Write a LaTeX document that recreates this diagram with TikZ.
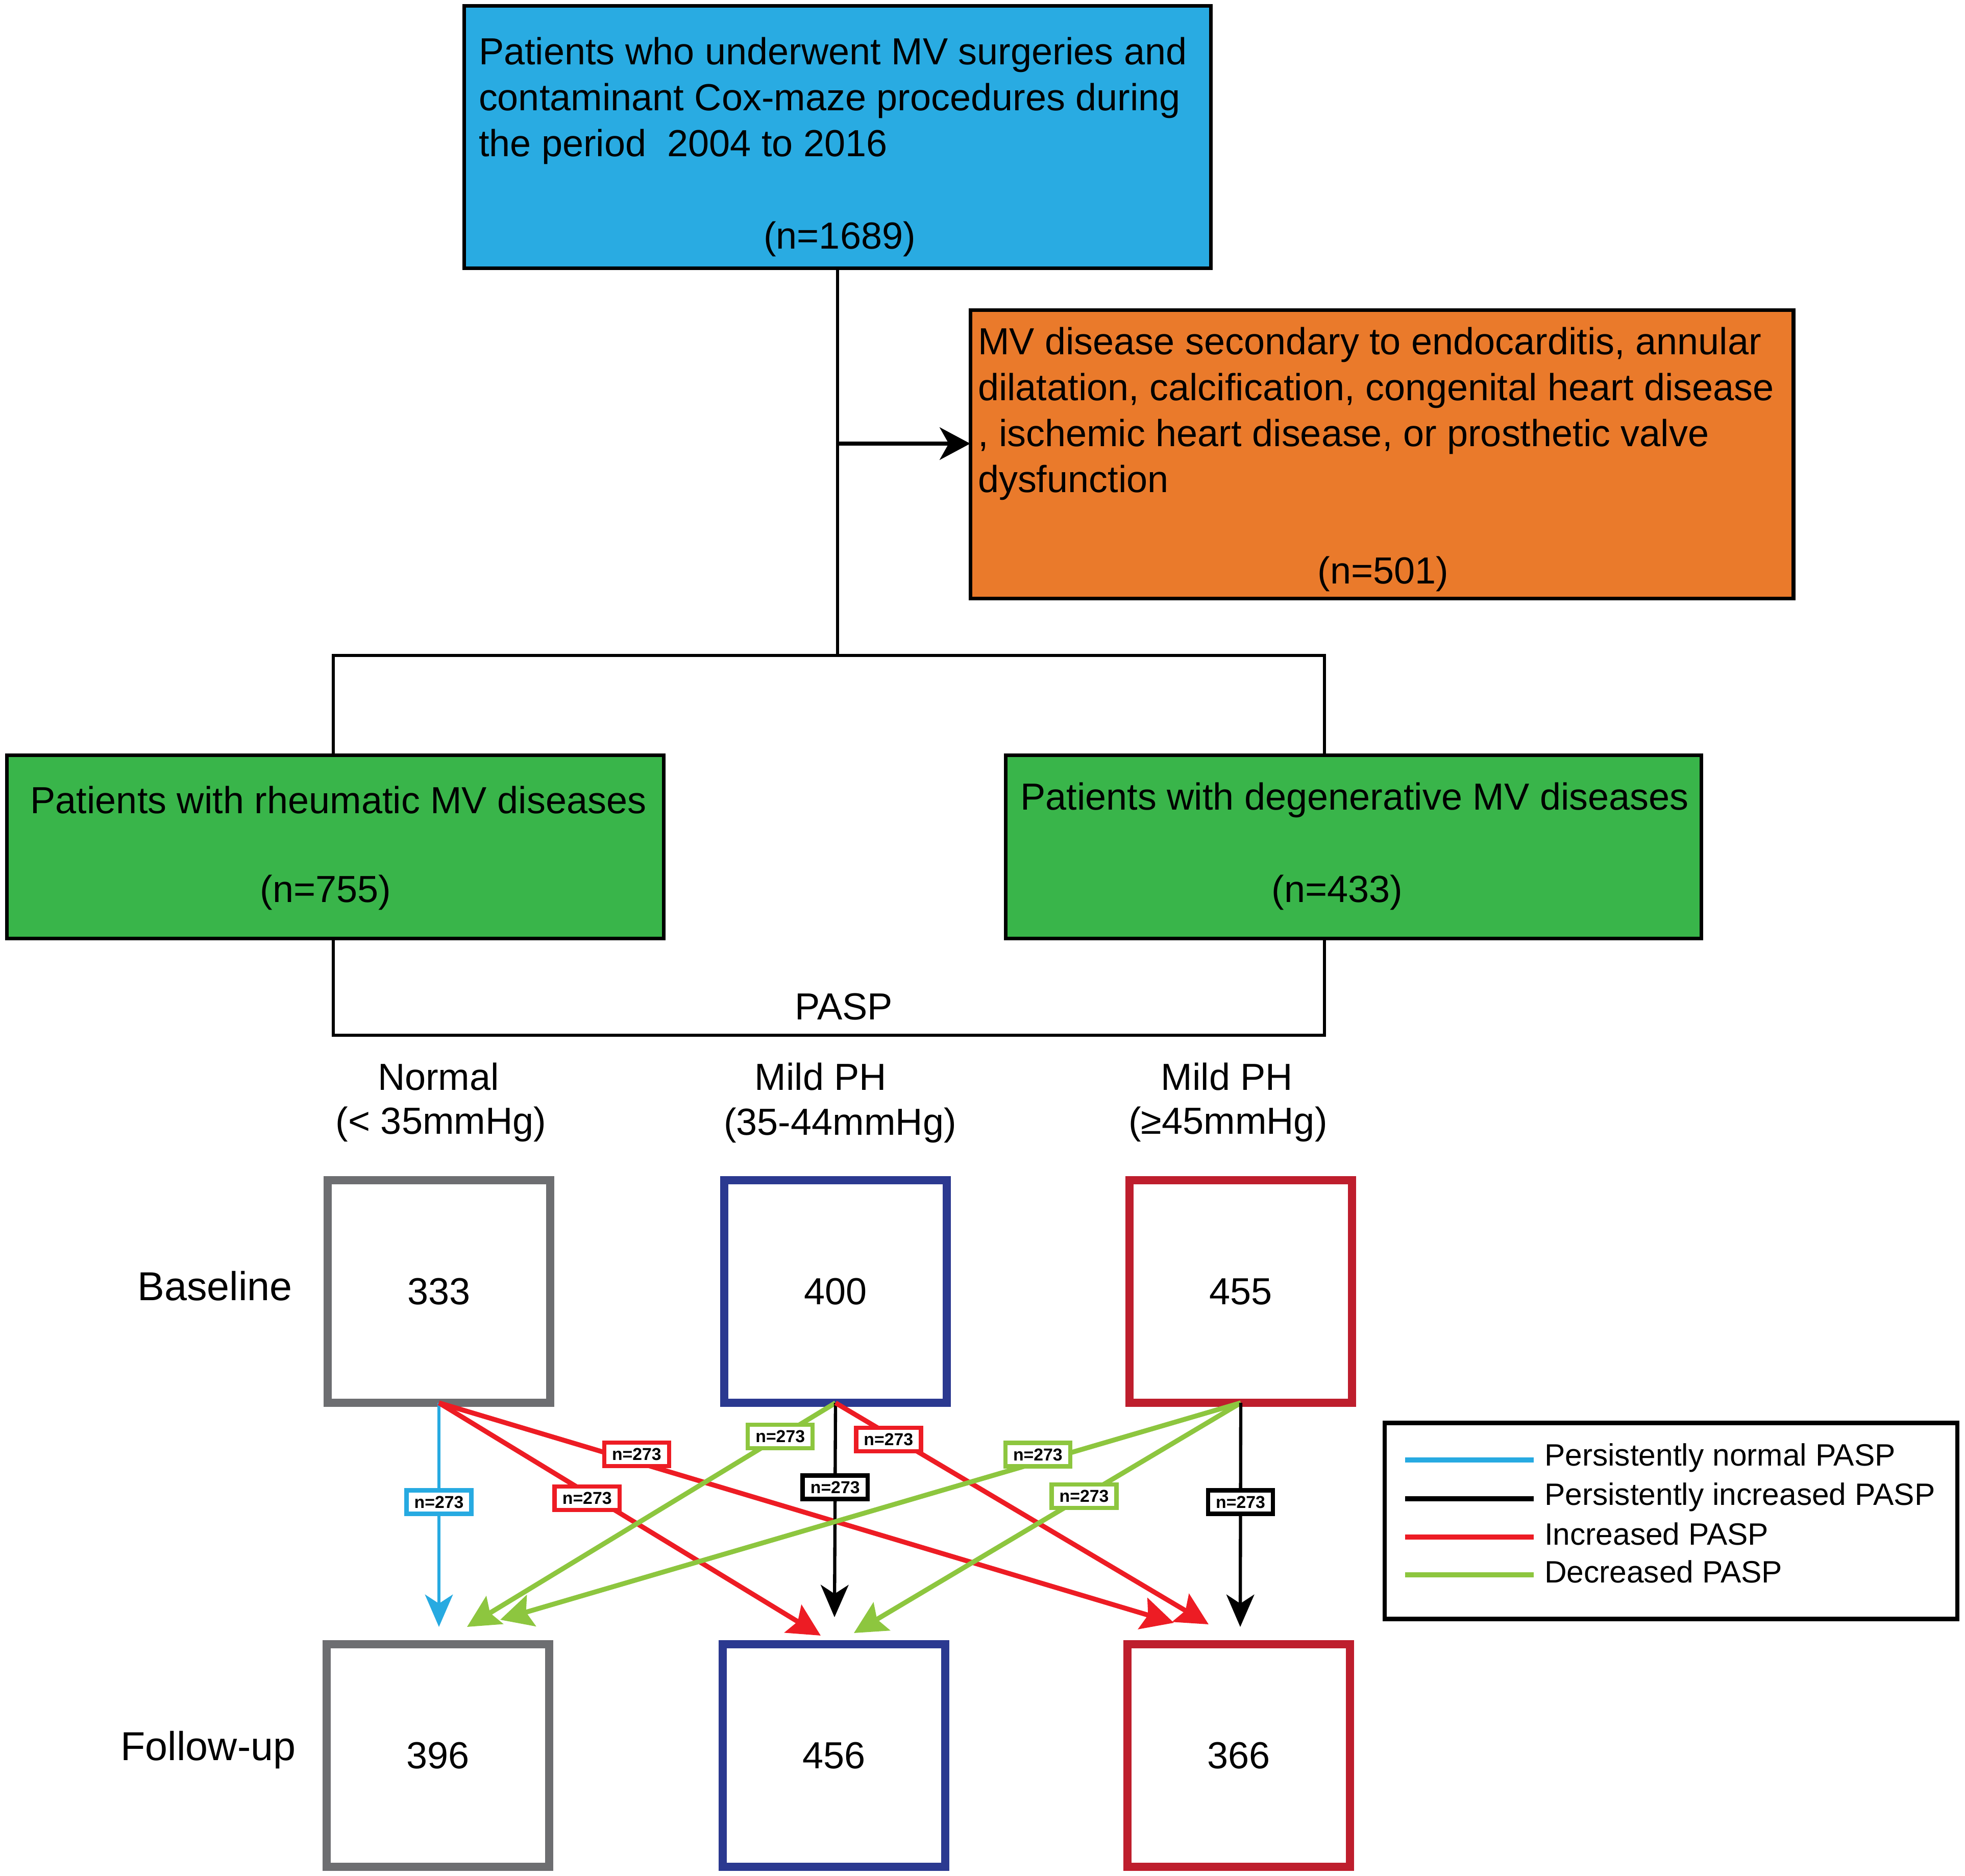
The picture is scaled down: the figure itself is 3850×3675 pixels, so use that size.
\documentclass[tikz,border=0pt]{standalone}
\usepackage{fontspec}
\setmainfont{Liberation Sans}
\usetikzlibrary{arrows.meta}
\definecolor{cTop}{RGB}{41,171,226}
\definecolor{cOrange}{RGB}{234,122,43}
\definecolor{cGreen}{RGB}{57,181,74}
\definecolor{cGray}{RGB}{109,110,113}
\definecolor{cNavy}{RGB}{43,57,144}
\definecolor{cDRed}{RGB}{190,30,45}
\definecolor{cCyan}{RGB}{39,170,225}
\definecolor{cRed}{RGB}{237,28,36}
\definecolor{cLime}{RGB}{141,198,63}
\begin{document}
\begin{tikzpicture}[x=0.01cm, y=-0.01cm,
  every node/.style={inner sep=0pt, outer sep=0pt},
  main/.style={font=\fontsize{21}{25.6}\selectfont},
  flowbox/.style={draw=black, line width=2pt, rectangle},
  conn/.style={line width=1.6pt, draw=black},
  stbox/.style={draw=#1, line width=4.5pt, fill=white, minimum width=4.36cm, minimum height=4.36cm, font=\fontsize{21}{25}\selectfont},
  lab/.style={draw=#1, line width=2.4pt, fill=white, minimum width=1.27cm, minimum height=0.46cm, font=\bfseries\fontsize{9.6}{10}\selectfont},
  fatarrow/.style={draw=#1, line width=2.7pt, -{Stealth[length=18pt,width=18pt,inset=3pt]}},
  slimarrow/.style={draw=#1, line width=1.8pt, -{Stealth[length=18pt,width=15.5pt,inset=5pt]}},
  legtext/.style={font=\fontsize{17.2}{20}\selectfont, anchor=base west},
  rowlab/.style={font=\fontsize{22.5}{26}\selectfont},
]
\useasboundingbox (0,0) rectangle (3850,3675);

% ---------- flowchart boxes ----------
\node[flowbox, fill=cTop, minimum width=14.63cm, minimum height=5.14cm] (top) at (1641,268.5) {};
\node[main, anchor=west, align=left] (toptxt) at (938,197) {Patients who underwent MV surgeries and\\contaminant Cox-maze procedures during\\the period~ 2004 to 2016};
\node[main] (topn) at (1645,468) {(n=1689)};

\node[flowbox, fill=cOrange, minimum width=16.12cm, minimum height=5.65cm] (excl) at (2707.5,890) {};
\node[main, anchor=west, align=left] (excltxt) at (1916,810) {MV disease secondary to endocarditis, annular\\dilatation, calcification, congenital heart disease\\, ischemic heart disease, or prosthetic valve\\dysfunction};
\node[main] (excln) at (2710,1124) {(n=501)};

\node[flowbox, fill=cGreen, minimum width=12.87cm, minimum height=3.59cm] (rheu) at (657,1659) {};
\node[main] (rheutxt) at (663,1567) {Patients with rheumatic MV diseases};
\node[main] (rheun) at (638,1748) {(n=755)};

\node[flowbox, fill=cGreen, minimum width=13.63cm, minimum height=3.59cm] (dege) at (2652,1659) {};
\node[main] (degetxt) at (2654,1567) {Patients with degenerative MV diseases};
\node[main] (degen) at (2620,1748) {(n=433)};

% ---------- flowchart connectors ----------
\coordinate (j0) at (1641,1284);
\coordinate (ja) at (1641,869);
\coordinate (hl) at (653,1284);
\coordinate (hr) at (2595,1284);
\coordinate (bl) at (653,2028);
\coordinate (br) at (2595,2028);
\draw[conn] (top.south) -- (j0);
\draw[conn] (rheu.north -| hl) -- (hl) -- (hr) -- (dege.north -| hr);
\draw[line width=2.4pt, -{Stealth[length=17pt,width=18pt,inset=5pt]}] (ja) -- (ja -| excl.west);
\draw[conn] (rheu.south -| bl) -- (bl) -- node[main, pos=0.515, anchor=south, yshift=0.3cm] (pasp) {PASP} (br) -- (dege.south -| br);

% ---------- column headers ----------
\node[main] (h1a) at (859,2109) {Normal};
\node[main] (h1b) at (864,2202) {(< 35mmHg)};
\node[main] (h2a) at (1608,2109) {Mild PH};
\node[main] (h2b) at (1646,2204) {(35-44mmHg)};
\node[main] (h3a) at (2404,2109) {Mild PH};
\node[main] (h3b) at (2406,2202) {(≥45mmHg)};

% ---------- row labels ----------
\node[rowlab] (lbase) at (421,2519) {Baseline};
\node[rowlab] (lfol) at (408,3428) {Follow-up};

% ---------- state boxes ----------
\node[stbox=cGray] (b1) at (860,2530) {333};
\node[stbox=cNavy] (b2) at (1637,2530) {400};
\node[stbox=cDRed] (b3) at (2431,2530) {455};
\node[stbox=cGray] (f1) at (858,3439) {396};
\node[stbox=cNavy] (f2) at (1634,3439) {456};
\node[stbox=cDRed] (f3) at (2427,3439) {366};

% ---------- arrow ends ----------
\coordinate (e1) at (860,3187);
\coordinate (e2) at (915,3187);
\coordinate (e3) at (980,3173);
\coordinate (e4) at (1608,3204);
\coordinate (e5) at (1635,3168);
\coordinate (e6) at (1673,3199);
\coordinate (e7) at (2300,3179);
\coordinate (e8) at (2368,3182);
\coordinate (e9) at (2430,3187);

% ---------- transitions ----------
\draw[slimarrow=cCyan] (b1.south) -- node[lab=cCyan, pos=0.443] (l1) {n=273} (e1);
\draw[fatarrow=cRed] (b1.south) -- node[lab=cRed, pos=0.388, yshift=-0.1cm] (l2) {n=273} (e4);
\draw[fatarrow=cRed] (b1.south) -- node[lab=cRed, pos=0.269, yshift=0.15cm] (l3) {n=273} (e7);
\draw[fatarrow=cLime] (b2.south) -- node[lab=cLime, pos=0.150] (l4) {n=273} (e2);
\draw[slimarrow=black] (b2.south) -- node[lab=black, pos=0.394] (l5) {n=273} (e5);
\draw[fatarrow=cRed] (b2.south) -- node[lab=cRed, pos=0.142, yshift=-0.1cm] (l6) {n=273} (e8);
\draw[fatarrow=cLime] (b3.south) -- node[lab=cLime, pos=0.274, yshift=0.15cm] (l7) {n=273} (e3);
\draw[fatarrow=cLime] (b3.south) -- node[lab=cLime, pos=0.405] (l8) {n=273} (e6);
\draw[slimarrow=black] (b3.south) -- node[lab=black, pos=0.443] (l9) {n=273} (e9);

% ---------- legend ----------
\node[draw=black, line width=2.4pt, minimum width=11.21cm, minimum height=3.84cm] (leg) at (3274,2979.5) {};
\draw[line width=2.6pt, cCyan] (2753,2860) -- (3005,2860);
\draw[line width=2.6pt, black] (2753,2936) -- (3005,2936);
\draw[line width=2.6pt, cRed] (2753,3011) -- (3005,3011);
\draw[line width=2.6pt, cLime] (2753,3085) -- (3005,3085);
\node[legtext] (lg1) at (3026,2871) {Persistently normal PASP};
\node[legtext] (lg2) at (3026,2948) {Persistently increased PASP};
\node[legtext] (lg3) at (3026,3026) {Increased PASP};
\node[legtext] (lg4) at (3026,3100) {Decreased PASP};
\end{tikzpicture}
\end{document}
